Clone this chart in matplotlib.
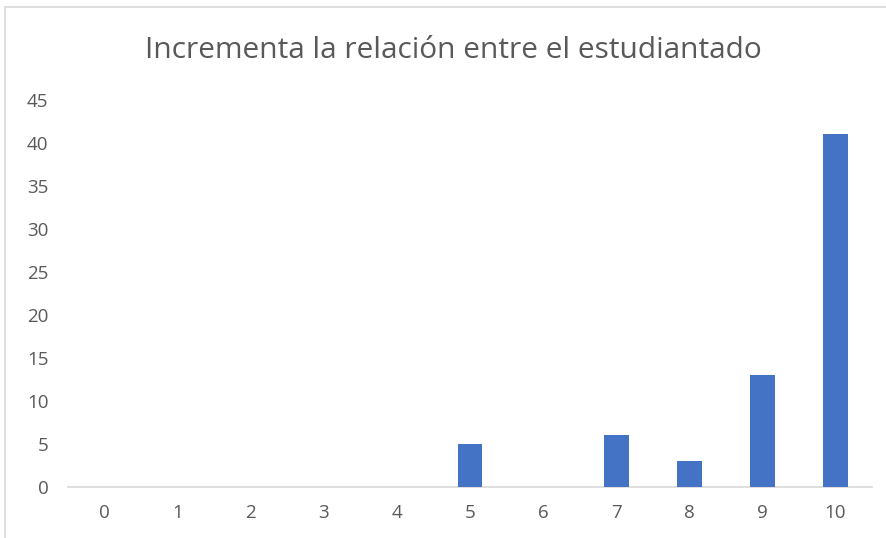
import matplotlib
matplotlib.use("Agg")
import matplotlib.pyplot as plt
from matplotlib.lines import Line2D

categories = ["0", "1", "2", "3", "4", "5", "6", "7", "8", "9", "10"]
values = [0, 0, 0, 0, 0, 5, 0, 6, 3, 13, 41]
yticks = [0, 5, 10, 15, 20, 25, 30, 35, 40, 45]
title = "Incrementa la relación entre el estudiantado"

plt.rcParams['font.family'] = ['Open Sans', 'DejaVu Sans']
W, H = 887, 538
fig = plt.figure(figsize=(W/100, H/100), dpi=100)
ax = fig.add_axes([68/W, (H-487)/H, (872-68)/W, (487-100)/H])

x = list(range(len(categories)))
ax.bar(x, values, width=0.34, color="#4472C4", zorder=3)
ax.set_xlim(-0.5, len(categories)-0.5)
ax.set_ylim(0, 45)
ax.set_yticks(yticks)
ax.set_xticks(x)
ax.set_xticklabels(categories)
for s in ["top", "right", "left"]:
    ax.spines[s].set_visible(False)
ax.spines["bottom"].set_color("#D9D9D9")
ax.spines["bottom"].set_linewidth(1.2)
ax.tick_params(axis="both", length=0, colors="#595959", labelsize=13.5)
ax.tick_params(axis="x", pad=12)
ax.tick_params(axis="y", pad=14)

fig.text(453/W, 1-50/H, title, ha="center", va="center", fontsize=21.5, color="#595959")

fig.add_artist(Line2D([5/W, 5/W], [0, 1-7/H], color="#D9D9D9", lw=1.2))
fig.add_artist(Line2D([5/W, 1], [1-7/H, 1-7/H], color="#D9D9D9", lw=1.2))

fig.savefig("out.png", dpi=100)
